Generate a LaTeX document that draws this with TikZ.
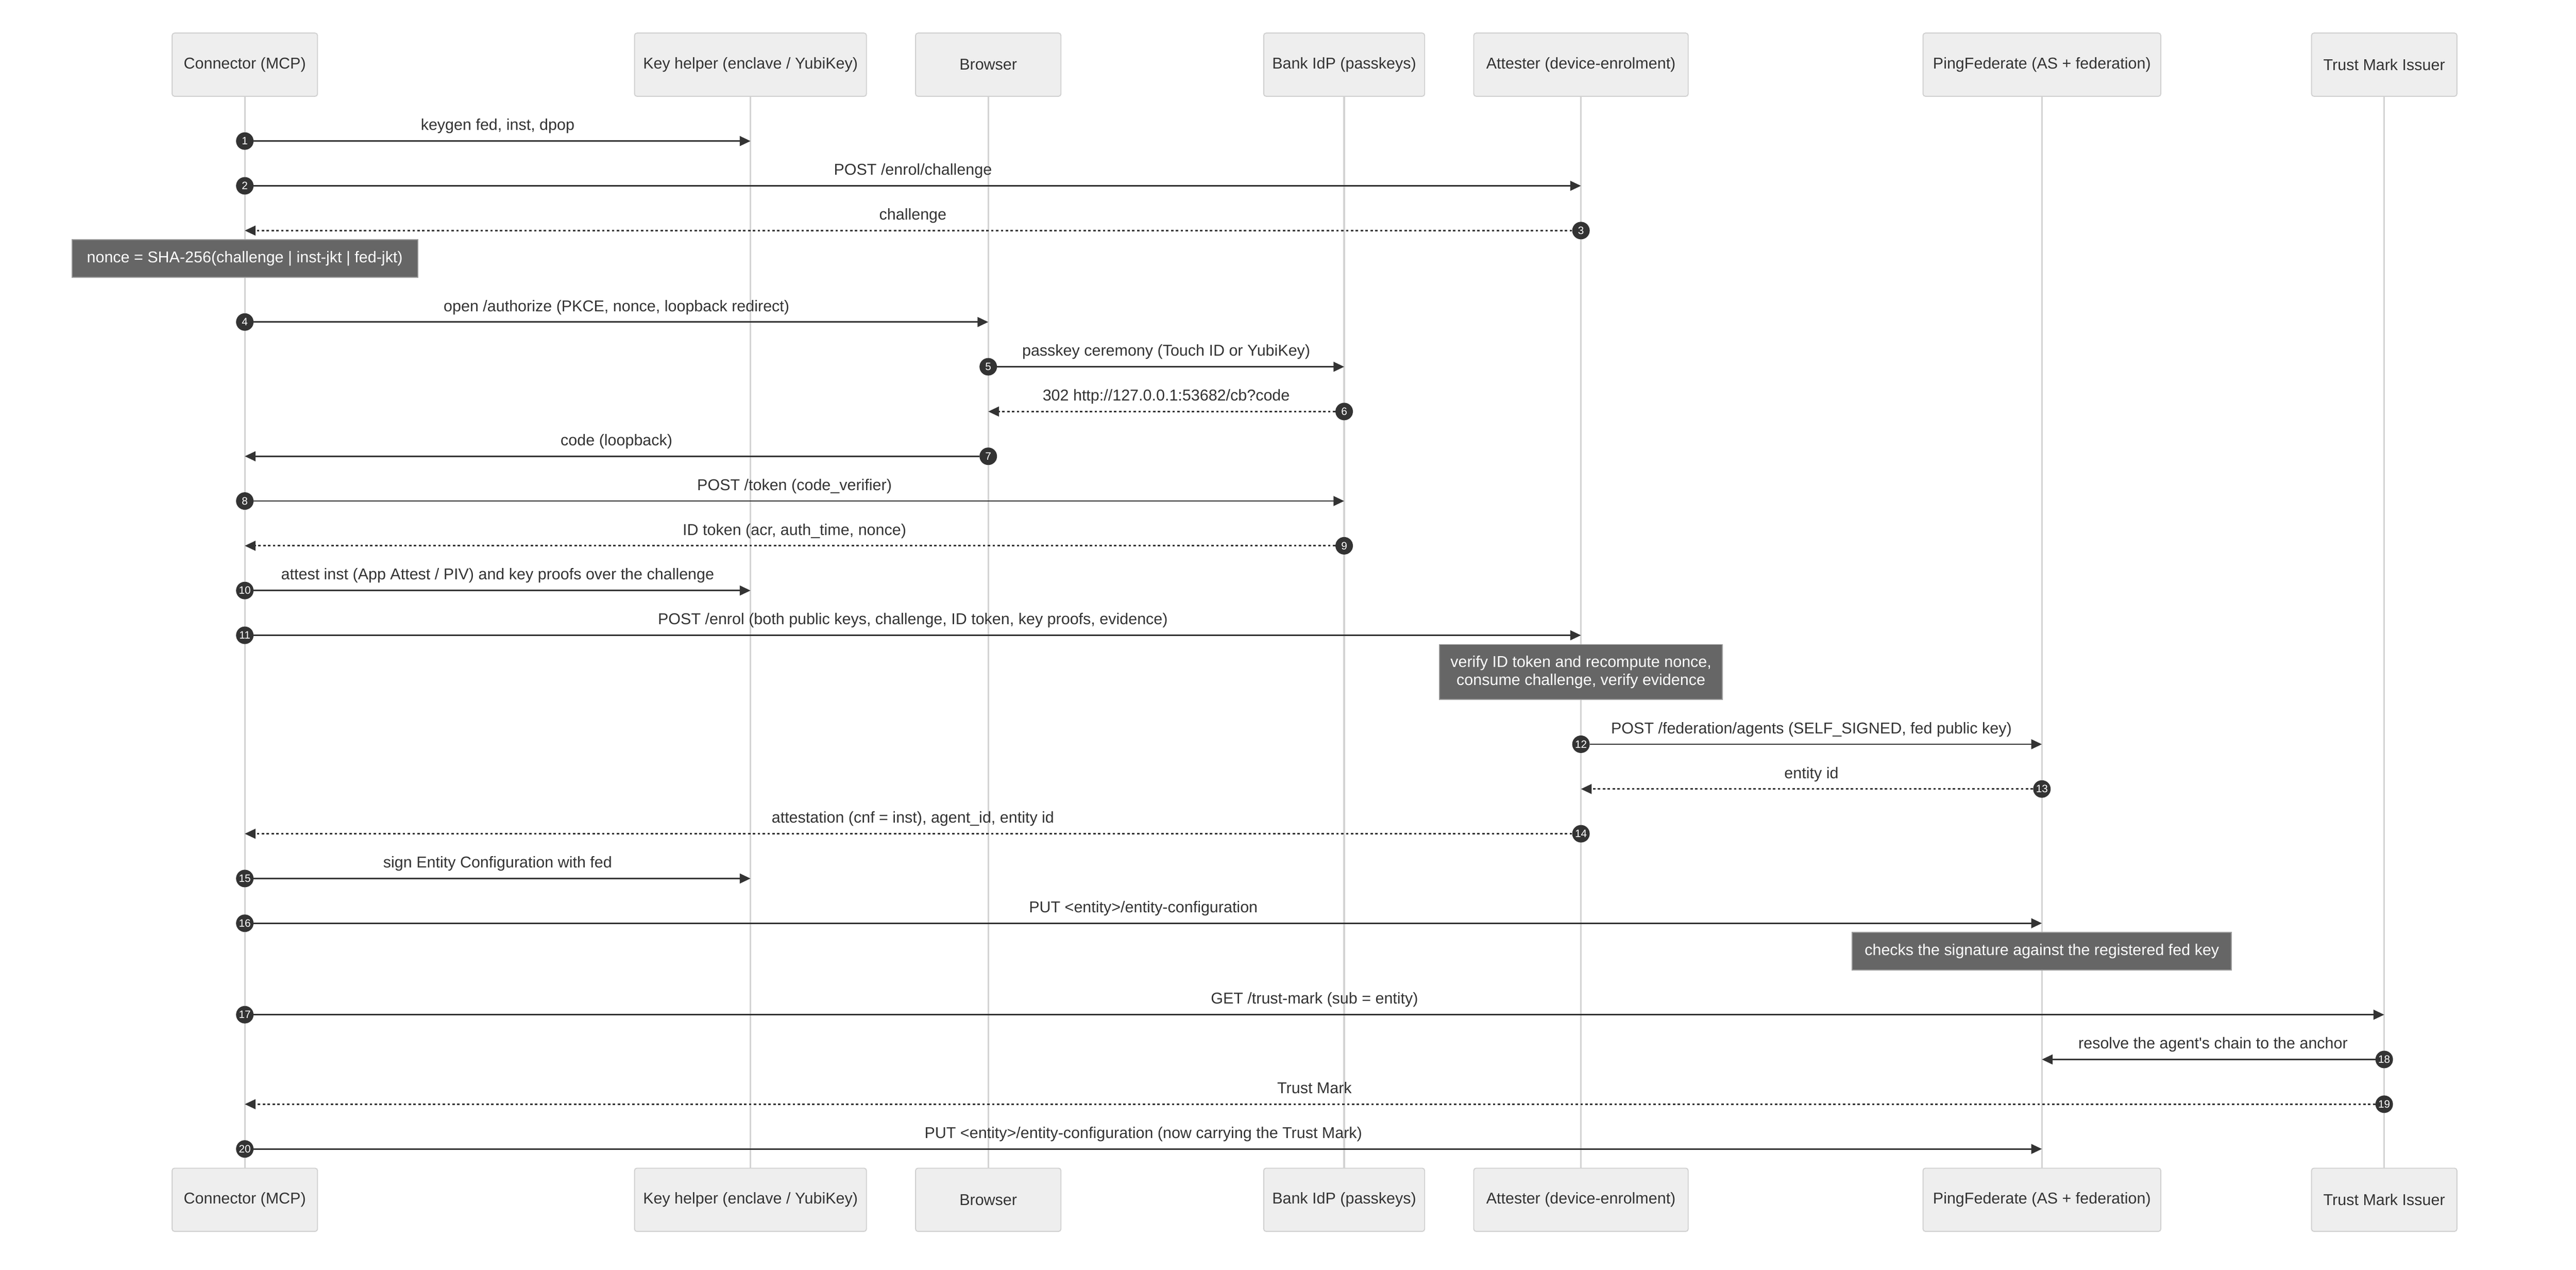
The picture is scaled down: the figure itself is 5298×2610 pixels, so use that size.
\documentclass[tikz,border=0pt]{standalone}
\usepackage{fontspec}
\setmainfont{Liberation Sans}[Ligatures=TeXOff]
\usetikzlibrary{arrows.meta,calc}
\definecolor{txt}{HTML}{333333}
\definecolor{msgc}{HTML}{333333}
\definecolor{boxfill}{HTML}{EEEEEE}
\definecolor{boxline}{HTML}{D0D0D0}
\definecolor{lifec}{HTML}{D3D3D3}
\definecolor{notefill}{HTML}{666666}
\definecolor{noteline}{HTML}{999999}
\newcommand{\mainsz}{\fontsize{32.3}{37}\selectfont}
\newcommand{\numsz}{\fontsize{22}{23}\selectfont}
\newcommand{\seqmsg}[6]{%
  \coordinate (r#4) at (0,#1);
  \node[numdot] (n#4) at (#2 |- r#4) {#4};
  \draw[#5] (n#4) -- (#3 |- r#4);
  \node[lbl] (l#4) at ($(#2 |- r#4)!0.5!(#3 |- r#4)+(0,-22)$) {#6};
}
\tikzset{
  partbox/.style={draw=boxline, fill=boxfill, line width=2pt, rounded corners=5pt,
    minimum height=130pt, text=txt, font=\mainsz, inner sep=0pt},
  life/.style={draw=lifec, line width=3.5pt},
  msg/.style={draw=msgc, line width=3pt, -{Triangle[length=22pt,width=20pt]}},
  ret/.style={msg, dash pattern=on 5pt off 5pt},
  numdot/.style={circle, fill=msgc, text=white, font=\numsz, minimum size=36pt, inner sep=0pt},
  lbl/.style={text=txt, font=\mainsz, anchor=base, inner sep=0pt},
  notebox/.style={fill=notefill, draw=noteline, line width=2pt, text=white,
    font=\mainsz, align=center, inner sep=0pt}
}
\begin{document}
\begin{tikzpicture}[x=1pt,y=-1pt]
\useasboundingbox[fill=white] (0,0) rectangle (5298,2610);

% participants top
\node[partbox, minimum width=299pt] (CnT) at (503.5,133) {Connector (MCP)};
\node[partbox, minimum width=477pt] (KHT) at (1543.5,133) {Key helper (enclave / YubiKey)};
\node[partbox, minimum width=299pt] (BrT) at (2032.5,133) {Browser};
\node[partbox, minimum width=331pt] (BkT) at (2764.5,133) {Bank IdP (passkeys)};
\node[partbox, minimum width=441pt] (AtT) at (3251.5,133) {Attester (device-enrolment)};
\node[partbox, minimum width=489pt] (PFT) at (4199.5,133) {PingFederate (AS + federation)};
\node[partbox, minimum width=299pt] (TMT) at (4903.5,133) {Trust Mark Issuer};
% participants bottom
\node[partbox, minimum width=299pt] (CnB) at (503.5,2466.5) {Connector (MCP)};
\node[partbox, minimum width=477pt] (KHB) at (1543.5,2466.5) {Key helper (enclave / YubiKey)};
\node[partbox, minimum width=299pt] (BrB) at (2032.5,2466.5) {Browser};
\node[partbox, minimum width=331pt] (BkB) at (2764.5,2466.5) {Bank IdP (passkeys)};
\node[partbox, minimum width=441pt] (AtB) at (3251.5,2466.5) {Attester (device-enrolment)};
\node[partbox, minimum width=489pt] (PFB) at (4199.5,2466.5) {PingFederate (AS + federation)};
\node[partbox, minimum width=299pt] (TMB) at (4903.5,2466.5) {Trust Mark Issuer};

% lifelines
\foreach \p in {Cn,KH,Br,Bk,At,PF,TM}{
  \draw[life] (\p T.south) -- (\p B.north);
}

% messages
\seqmsg{290}{CnT}{KHT}{1}{msg}{keygen fed, inst, dpop}
\seqmsg{382}{CnT}{AtT}{2}{msg}{POST /enrol/challenge}
\seqmsg{474}{AtT}{CnT}{3}{ret}{challenge}
\node[notebox, minimum width=711pt, minimum height=77pt] (note1) at (503.5,531.5)
  {nonce = SHA-256(challenge | inst-jkt | fed-jkt)};
\seqmsg{662}{CnT}{BrT}{4}{msg}{open /authorize (PKCE, nonce, loopback redirect)}
\seqmsg{754}{BrT}{BkT}{5}{msg}{passkey ceremony (Touch ID or YubiKey)}
\seqmsg{846}{BkT}{BrT}{6}{ret}{302 http://127.0.0.1:53682/cb?code}
\seqmsg{938}{BrT}{CnT}{7}{msg}{code (loopback)}
\seqmsg{1030}{CnT}{BkT}{8}{msg}{POST /token (code\_verifier)}
\seqmsg{1122}{BkT}{CnT}{9}{ret}{ID token (acr, auth\_time, nonce)}
\seqmsg{1214}{CnT}{KHT}{10}{msg}{attest inst (App Attest / PIV) and key proofs over the challenge}
\seqmsg{1306}{CnT}{AtT}{11}{msg}{POST /enrol (both public keys, challenge, ID token, key proofs, evidence)}
\node[notebox, minimum width=582pt, minimum height=113pt] (note2) at (3251.5,1381.5)
  {verify ID token and recompute nonce,\\consume challenge, verify evidence};
\seqmsg{1530}{AtT}{PFT}{12}{msg}{POST /federation/agents (SELF\_SIGNED, fed public key)}
\seqmsg{1622}{PFT}{AtT}{13}{ret}{entity id}
\seqmsg{1714}{AtT}{CnT}{14}{ret}{attestation (cnf = inst), agent\_id, entity id}
\seqmsg{1806}{CnT}{KHT}{15}{msg}{sign Entity Configuration with fed}
\seqmsg{1898}{CnT}{PFT}{16}{msg}{PUT <entity>/entity-configuration}
\node[notebox, minimum width=780pt, minimum height=77pt] (note3) at (4199.5,1955.5)
  {checks the signature against the registered fed key};
\seqmsg{2086}{CnT}{TMT}{17}{msg}{GET /trust-mark (sub = entity)}
\seqmsg{2178}{TMT}{PFT}{18}{msg}{resolve the agent's chain to the anchor}
\seqmsg{2270}{TMT}{CnT}{19}{ret}{Trust Mark}
\seqmsg{2362}{CnT}{PFT}{20}{msg}{PUT <entity>/entity-configuration (now carrying the Trust Mark)}
\end{tikzpicture}
\end{document}
